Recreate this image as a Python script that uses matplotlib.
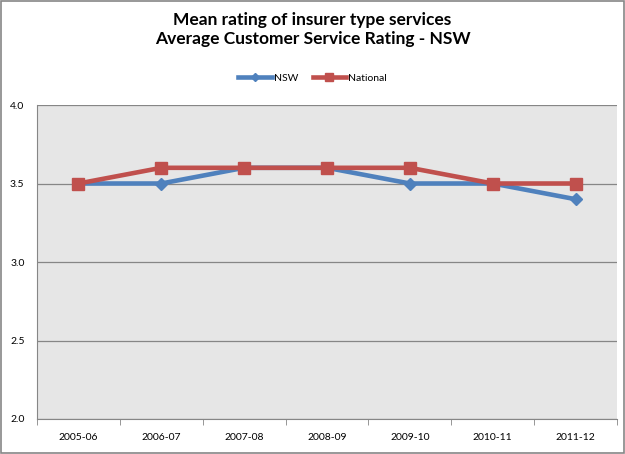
import matplotlib
matplotlib.use("Agg")
import matplotlib.pyplot as plt
from matplotlib.ticker import FixedLocator, NullFormatter
import numpy as np

categories = ["2005-06", "2006-07", "2007-08", "2008-09", "2009-10", "2010-11", "2011-12"]
nsw = [3.5, 3.5, 3.6, 3.6, 3.5, 3.5, 3.4]
national = [3.5, 3.6, 3.6, 3.6, 3.6, 3.5, 3.5]
yticks = [2.0, 2.5, 3.0, 3.5, 4.0]

plt.rcParams['font.family'] = ['Lato', 'DejaVu Sans']

fig = plt.figure(figsize=(6.25, 4.54), dpi=100)
fig.patch.set_facecolor("white")
ax = fig.add_axes([0.0592, 0.0771, 0.928, 0.6916])
ax.set_facecolor("#e6e6e6")

x = np.arange(len(categories))
ax.plot(x, nsw, color="#4f81bd", lw=3.3, marker="D", ms=6, label="NSW", zorder=3)
ax.plot(x, national, color="#c0504d", lw=3.3, marker="s", ms=8, label="National", zorder=4)

ax.set_xlim(-0.5, len(categories) - 0.5)
ax.set_ylim(2.0, 4.0)
ax.set_yticks(yticks)
ax.set_yticklabels([f"{v:.1f}" for v in yticks], fontsize=7.5)
ax.yaxis.grid(True, color="#868686", lw=0.9)
ax.set_axisbelow(True)
ax.tick_params(axis="y", length=0, pad=9)

ax.set_xticks(x)
ax.set_xticklabels(categories, fontsize=7.5)
ax.tick_params(axis="x", which="major", length=0, pad=10)
ax.xaxis.set_minor_locator(FixedLocator(np.arange(-0.5, len(categories), 1.0)))
ax.xaxis.set_minor_formatter(NullFormatter())
ax.tick_params(axis="x", which="minor", length=4, color="#868686", direction="out")

for s in ["top", "right"]:
    ax.spines[s].set_visible(False)
ax.spines["left"].set_color("#868686")
ax.spines["bottom"].set_color("#868686")

fig.text(0.5, 0.935, "Mean rating of insurer type services\nAverage Customer Service Rating - NSW",
         ha="center", va="center", fontsize=12.5, fontweight="bold", linespacing=1.3)

leg = fig.legend(loc="center", bbox_to_anchor=(0.5, 0.828), ncol=2, frameon=False,
                 fontsize=7.5, handlelength=3.2, columnspacing=1.4, handletextpad=0.2,
                 markerscale=0.7)

border = plt.Rectangle((0.002, 0.002), 0.996, 0.996, transform=fig.transFigure,
                       fill=False, edgecolor="#868686", lw=1.2)
fig.patches.append(border)

fig.savefig("out.png", dpi=100, facecolor="white")
